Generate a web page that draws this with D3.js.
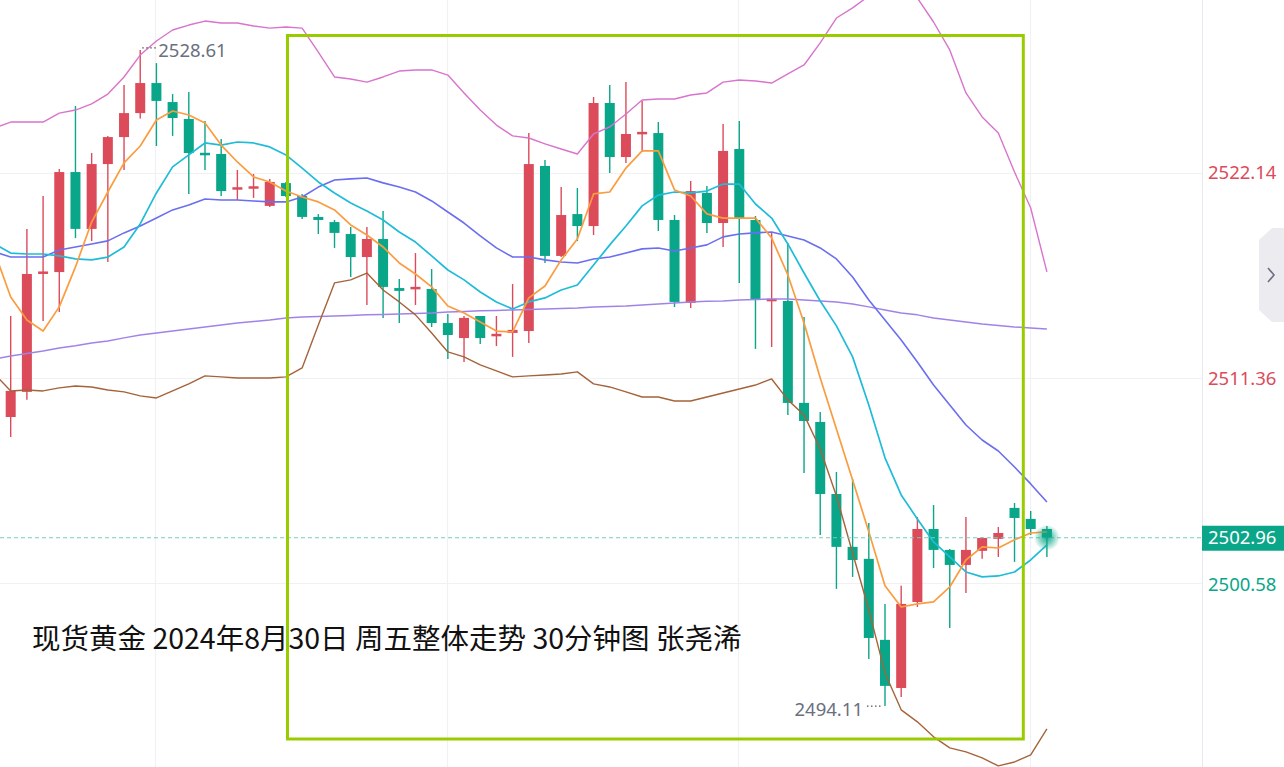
<!DOCTYPE html>
<html><head><meta charset="utf-8">
<script src="https://cdn.jsdelivr.net/npm/d3@7/dist/d3.min.js"></script>
<style>html,body{margin:0;padding:0;background:#fff;overflow:hidden}svg{display:block}</style>
</head><body>
<svg id="c" width="1284" height="767"></svg>
<script>
const open = [
2509.31,2510.63,2516.80,2516.93,2522.19,2519.20,2522.61,2524.03,2525.29,2526.87,
2525.87,2524.98,2523.14,2523.14,2521.27,2521.33,2520.41,2521.61,2520.93,2519.83,
2519.56,2518.93,2517.72,2518.67,2516.09,2516.04,2516.04,2514.25,2513.46,2514.62,
2513.52,2513.73,2513.83,2522.51,2517.78,2519.98,2519.35,2525.82,2522.98,2524.19,
2524.24,2519.67,2515.31,2521.09,2519.51,2523.40,2519.67,2515.36,2515.41,2510.05,
2509.05,2505.26,2502.48,2501.85,2497.59,2495.06,2499.58,2503.42,2502.32,2501.53,
2502.27,2502.90,2504.53,2503.95,2503.42];
const close = [
2510.68,2516.83,2516.90,2522.19,2519.20,2522.61,2524.03,2525.29,2526.87,2525.93,
2525.03,2523.19,2523.03,2521.19,2521.33,2521.38,2521.67,2520.93,2519.83,2519.67,
2518.99,2517.72,2518.67,2516.15,2515.94,2516.09,2514.25,2513.62,2514.52,2513.46,
2513.62,2513.89,2522.61,2517.78,2519.93,2519.35,2525.82,2522.98,2524.19,2524.24,
2519.67,2515.36,2521.19,2519.51,2523.30,2519.72,2515.46,2515.46,2510.05,2509.10,
2505.26,2502.48,2501.79,2497.69,2495.17,2499.48,2503.42,2502.32,2501.53,2502.32,
2502.95,2503.21,2504.00,2503.42,2502.96];
const high = [
2514.62,2519.20,2520.93,2522.35,2525.66,2523.19,2524.09,2526.77,2528.61,2527.92,
2526.29,2526.40,2524.87,2523.93,2522.30,2522.09,2521.82,2521.67,2521.04,2519.98,
2519.67,2519.30,2519.30,2520.14,2516.57,2517.93,2517.09,2514.73,2514.62,2514.62,
2514.62,2516.30,2524.24,2522.82,2521.40,2521.35,2526.14,2526.77,2526.92,2525.93,
2524.82,2519.93,2521.72,2521.46,2524.72,2524.87,2519.88,2518.99,2518.46,2514.57,
2509.57,2506.42,2506.05,2503.74,2499.48,2500.43,2504.05,2504.68,2502.37,2504.05,
2503.00,2503.53,2504.79,2504.37,2503.58];
const low = [
2508.26,2510.21,2514.36,2514.83,2518.72,2518.56,2517.46,2522.30,2525.00,2523.56,
2524.09,2521.04,2522.30,2520.93,2520.72,2520.83,2520.35,2520.88,2519.72,2518.93,
2518.20,2516.67,2515.20,2514.52,2514.25,2515.20,2514.04,2512.36,2512.20,2513.15,
2513.04,2512.47,2513.20,2517.41,2517.72,2518.56,2518.88,2522.14,2522.67,2523.24,
2519.09,2515.09,2515.04,2518.99,2518.25,2516.36,2512.89,2512.99,2509.42,2506.37,
2503.11,2500.27,2500.90,2496.59,2494.11,2494.59,2499.32,2501.37,2498.22,2500.06,
2501.85,2501.95,2501.69,2503.11,2501.95];
// indicator lines: first value belongs to the (off-screen) bar before the first candle
const ma5 = [2517.99,
2515.62,2514.41,2513.83,2515.10,2517.20,2519.56,2521.14,2522.67,2523.56,2524.93,
2525.40,2525.19,2524.77,2523.61,2522.72,2521.93,2521.67,2521.19,2520.88,2520.62,
2520.20,2519.41,2518.88,2518.25,2517.41,2516.83,2516.15,2515.15,2514.78,2514.31,
2513.83,2513.78,2515.57,2516.20,2517.57,2518.67,2521.04,2521.14,2522.40,2523.30,
2523.30,2521.25,2520.93,2519.99,2519.77,2519.77,2519.77,2518.72,2516.78,2514.25,
2511.36,2508.68,2506.00,2503.27,2500.43,2499.32,2499.48,2499.59,2500.37,2501.79,
2502.48,2502.42,2502.85,2503.21,2503.27];
const ma10 = [2518.41,
2517.93,2517.88,2517.88,2517.78,2517.62,2517.57,2517.72,2518.25,2519.46,2521.09,
2522.46,2523.09,2523.72,2523.61,2523.77,2523.72,2523.51,2523.09,2522.40,2521.67,
2521.09,2520.56,2520.14,2519.67,2519.04,2518.51,2517.78,2517.04,2516.52,2515.88,
2515.36,2514.99,2515.36,2515.57,2515.99,2516.25,2517.30,2518.36,2519.35,2520.41,
2520.98,2521.14,2521.09,2521.19,2521.56,2521.56,2520.51,2519.77,2518.41,2516.88,
2515.41,2514.10,2512.47,2509.94,2507.16,2505.21,2503.95,2502.74,2501.95,2501.16,
2500.90,2500.95,2501.16,2501.79,2502.58];
const ma60 = [2512.36,
2512.52,2512.65,2512.78,2512.94,2513.05,2513.20,2513.31,2513.47,2513.62,2513.73,
2513.83,2513.94,2514.04,2514.15,2514.25,2514.33,2514.41,2514.52,2514.57,2514.60,
2514.62,2514.65,2514.68,2514.70,2514.73,2514.75,2514.78,2514.83,2514.86,2514.89,
2514.91,2514.94,2514.96,2514.99,2515.02,2515.04,2515.10,2515.12,2515.15,2515.20,
2515.25,2515.31,2515.36,2515.39,2515.41,2515.46,2515.49,2515.52,2515.52,2515.46,
2515.41,2515.36,2515.25,2515.10,2514.94,2514.78,2514.68,2514.52,2514.41,2514.31,
2514.20,2514.12,2514.04,2513.99,2513.94];
const bollUp = [2524.51,
2524.82,2524.82,2524.82,2525.29,2525.45,2525.77,2526.29,2527.19,2528.34,2529.08,
2529.66,2529.92,2530.13,2530.03,2530.03,2529.87,2529.76,2529.82,2529.76,2528.50,
2527.19,2527.08,2526.92,2527.19,2527.50,2527.56,2527.56,2527.29,2526.35,2525.45,
2524.66,2524.09,2523.98,2523.67,2523.40,2523.14,2524.19,2524.56,2525.24,2525.98,
2526.03,2526.03,2526.24,2526.35,2526.92,2527.03,2526.98,2526.87,2527.35,2527.82,
2528.98,2530.29,2530.82,2531.45,2531.87,2531.97,2531.34,2530.08,2528.61,2526.35,
2525.09,2524.24,2522.19,2520.30,2516.94];
const bollMid = [2517.99,
2517.72,2517.72,2517.72,2518.09,2518.25,2518.41,2518.57,2518.99,2519.35,2519.77,
2520.20,2520.46,2520.77,2520.72,2520.72,2520.67,2520.62,2520.62,2520.88,2521.40,
2521.77,2521.83,2521.88,2521.62,2521.40,2521.14,2520.67,2520.09,2519.51,2518.83,
2518.20,2517.72,2517.72,2517.57,2517.46,2517.41,2517.62,2517.72,2517.93,2518.15,
2518.20,2518.04,2518.20,2518.36,2518.78,2518.93,2518.99,2519.04,2518.83,2518.62,
2518.20,2517.62,2516.67,2515.46,2514.41,2513.36,2512.20,2510.99,2509.94,2508.89,
2508.10,2507.52,2506.68,2505.79,2504.84];
const bollDn = [2511.57,
2510.68,2510.73,2510.68,2510.84,2510.94,2510.89,2510.73,2510.63,2510.42,2510.31,
2510.68,2511.05,2511.47,2511.42,2511.36,2511.36,2511.36,2511.42,2511.89,2514.15,
2516.36,2516.52,2516.88,2515.99,2515.36,2514.68,2513.73,2512.73,2512.47,2512.05,
2511.73,2511.42,2511.47,2511.52,2511.57,2511.68,2511.05,2510.89,2510.63,2510.36,
2510.36,2510.15,2510.15,2510.36,2510.57,2510.78,2510.99,2511.31,2510.21,2509.42,
2507.63,2505.16,2502.16,2499.17,2495.85,2493.91,2493.28,2492.49,2491.91,2491.70,
2491.38,2490.96,2491.17,2491.54,2492.91];
const tickValues = [2522.14, 2511.36, 2500.58];
const tickLabels = ["2522.14", "2511.36", "2500.58"];
const lastPrice = 2502.96;
const titleText = "现货黄金 2024年8月30日 周五整体走势 30分钟图 张尧浠";
const vGridIdx = [9, 27, 45, 63];

const W = 1284, H = 767, axisX = 1202;
const RED = "#dc4b5a", GREEN = "#0aa689";
const svg = d3.select("#c");
const x = d3.scaleLinear().domain([0, open.length - 1]).range([10.7, 1046.9]);
const y = d3.scaleLinear().domain([tickValues[0], tickValues[2]]).range([173, 583]);

// grid
const g = svg.append("g");
g.selectAll(".hg").data(tickValues).join("line")
  .attr("x1", 0).attr("x2", axisX).attr("y1", d => Math.round(y(d)) + 0.5).attr("y2", d => Math.round(y(d)) + 0.5)
  .attr("stroke", "#f1f1f3").attr("stroke-width", 1.2);
g.selectAll(".vg").data(vGridIdx).join("line")
  .attr("x1", d => Math.round(x(d)) - 0.5).attr("x2", d => Math.round(x(d)) - 0.5).attr("y1", 0).attr("y2", H)
  .attr("stroke", "#f1f1f3").attr("stroke-width", 1.2);

// candles
const idx = d3.range(open.length);
const cg = svg.append("g");
const col = i => close[i] >= open[i] ? RED : GREEN;
cg.selectAll(".wick").data(idx).join("line")
  .attr("x1", i => x(i)).attr("x2", i => x(i))
  .attr("y1", i => y(high[i])).attr("y2", i => y(low[i]))
  .attr("stroke", col).attr("stroke-width", 1.4);
const bw = 10;
cg.selectAll(".body").data(idx).join("rect")
  .attr("x", i => x(i) - bw / 2)
  .attr("y", i => Math.min(y(open[i]), y(close[i])) - (Math.abs(y(open[i]) - y(close[i])) < 2.5 ? 1.2 : 0))
  .attr("width", bw)
  .attr("height", i => Math.max(2.5, Math.abs(y(open[i]) - y(close[i]))))
  .attr("fill", col);

// lines (index 0 of each series is the bar before the first visible candle)
const line = d3.line().x((d, i) => x(i - 1)).y(d => y(d));
const series = [
  {d: ma60, c: "#a183e8", w: 1.5},
  {d: bollUp, c: "#d874cc", w: 1.4},
  {d: bollDn, c: "#a5633a", w: 1.4},
  {d: bollMid, c: "#6a6ef0", w: 1.6},
  {d: ma10, c: "#1fbcd9", w: 1.7},
  {d: ma5, c: "#fb9c3f", w: 1.7}
];
svg.append("g").selectAll("path").data(series).join("path")
  .attr("d", s => line(s.d)).attr("fill", "none")
  .attr("stroke", s => s.c).attr("stroke-width", s => s.w).attr("stroke-linejoin", "round");

// last price dashed line
svg.append("line").attr("x1", 0).attr("x2", axisX).attr("y1", y(lastPrice)).attr("y2", y(lastPrice))
  .attr("stroke", "#73cfc0").attr("stroke-width", 1).attr("stroke-dasharray", "4,3");

// glow on last candle
const defs = svg.append("defs");
const rg = defs.append("radialGradient").attr("id", "glow");
rg.append("stop").attr("offset", "0%").attr("stop-color", GREEN).attr("stop-opacity", 0.9);
rg.append("stop").attr("offset", "45%").attr("stop-color", GREEN).attr("stop-opacity", 0.55);
rg.append("stop").attr("offset", "100%").attr("stop-color", GREEN).attr("stop-opacity", 0);
const li = open.length - 1;
svg.append("circle").attr("cx", x(li)).attr("cy", y(lastPrice)).attr("r", 13).attr("fill", "url(#glow)");

// high / low annotations
const hi = d3.maxIndex(high), lo = d3.minIndex(low);
const annFont = "Noto Sans, sans-serif";
const fs = 18.5;
svg.append("line").attr("x1", x(hi) + 2).attr("x2", x(hi) + 16).attr("y1", y(high[hi]) - 2).attr("y2", y(high[hi]) - 2)
  .attr("stroke", "#555").attr("stroke-width", 1.3).attr("stroke-dasharray", "1.5,2.5");
svg.append("text").attr("x", x(hi) + 18).attr("y", y(high[hi]) + 2).attr("dominant-baseline", "middle")
  .attr("font-family", annFont).attr("font-size", fs).attr("fill", "#6b6f7e").text(high[hi].toFixed(2));
svg.append("line").attr("x1", x(lo) - 18).attr("x2", x(lo) - 3).attr("y1", y(low[lo])).attr("y2", y(low[lo]))
  .attr("stroke", "#555").attr("stroke-width", 1.3).attr("stroke-dasharray", "1.5,2.5");
svg.append("text").attr("x", x(lo) - 22).attr("y", y(low[lo]) + 5).attr("dominant-baseline", "middle").attr("text-anchor", "end")
  .attr("font-family", annFont).attr("font-size", fs).attr("fill", "#6b6f7e").text(low[lo].toFixed(2));

// right axis
svg.append("rect").attr("x", axisX).attr("y", 0).attr("width", W - axisX).attr("height", H).attr("fill", "#fff");
svg.append("line").attr("x1", axisX + 0.5).attr("x2", axisX + 0.5).attr("y1", 0).attr("y2", H).attr("stroke", "#e8e8ee").attr("stroke-width", 1);
const tickCols = [RED, RED, GREEN];
const tickDy = [1, 2, 3];
svg.append("g").selectAll("text").data(tickValues).join("text")
  .attr("x", axisX + 6).attr("y", (d, i) => y(d) + tickDy[i]).attr("dominant-baseline", "middle")
  .attr("font-family", annFont).attr("font-size", fs).attr("fill", (d, i) => tickCols[i]).text((d, i) => tickLabels[i]);
svg.append("rect").attr("x", axisX).attr("y", y(lastPrice) - 12).attr("width", W - axisX).attr("height", 25).attr("fill", GREEN);
svg.append("text").attr("x", axisX + 6).attr("y", y(lastPrice) + 1).attr("dominant-baseline", "middle")
  .attr("font-family", annFont).attr("font-size", fs).attr("fill", "#fff").text(lastPrice.toFixed(2));

// collapse tab
svg.append("path").attr("d", "M1284,228 L1272,228 L1259,240 L1259,310 L1272,322 L1284,322 Z").attr("fill", "#ebebf0");
svg.append("path").attr("d", "M1268,268 L1274,275 L1268,282").attr("fill", "none").attr("stroke", "#6b6f7e").attr("stroke-width", 1.6);

// highlight box
svg.append("rect").attr("x", 287.5).attr("y", 35.5).attr("width", 1023.3 - 287.5).attr("height", 739 - 35.5)
  .attr("fill", "none").attr("stroke", "#99cc00").attr("stroke-width", 3);

// title
svg.append("text").attr("x", 32).attr("y", 649)
  .attr("font-family", "'Noto Sans CJK SC', sans-serif").attr("font-size", 28.5).attr("fill", "#111").text(titleText);
</script>
</body></html>
